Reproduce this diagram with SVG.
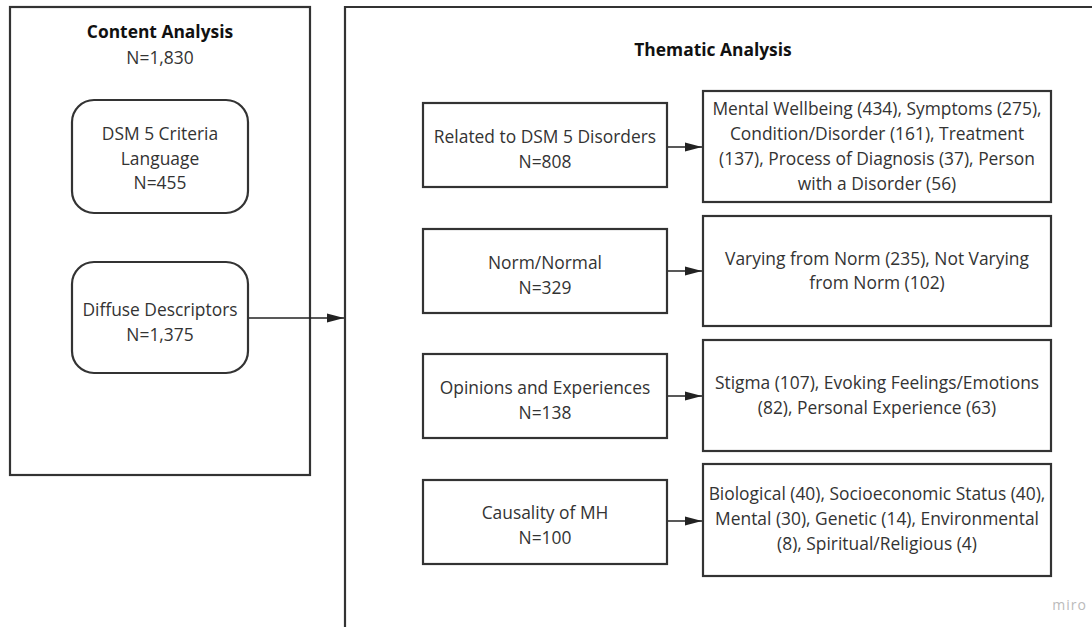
<svg xmlns="http://www.w3.org/2000/svg" width="1092" height="627" viewBox="0 0 1092 627">
<defs>
<marker id="ah" markerWidth="17" markerHeight="10" refX="17" refY="5" orient="auto" markerUnits="userSpaceOnUse">
<path d="M0,0.5 L17,5 L0,9.5 Z" fill="#222"/>
</marker>
<style>
.box{fill:#fff;stroke:#333;stroke-width:2.2}
.t{font-family:"Open Sans","Liberation Sans",sans-serif;font-size:17.4px;fill:#333;text-anchor:middle}
.b{font-weight:bold;fill:#111}
.c{stroke:#222;stroke-width:1.6;fill:none;marker-end:url(#ah)}
</style>
</defs>
<rect width="1092" height="627" fill="#fff"/>
<g id="content-analysis">
<rect class="box" x="10" y="7" width="300" height="468"/>
<text class="t b" x="160" y="38">Content Analysis</text>
<text class="t" x="160" y="64">N=1,830</text>
</g>
<g id="thematic-analysis">
<path d="M345,640 L345,7 L1100,7" fill="none" stroke="#333" stroke-width="2.2"/>
<text class="t b" x="713" y="56">Thematic Analysis</text>
</g>
<g id="dsm-criteria">
<rect class="box" x="72" y="100" width="176" height="113" rx="22"/>
<text class="t" x="160" y="140">DSM 5 Criteria</text>
<text class="t" x="160" y="165">Language</text>
<text class="t" x="160" y="189">N=455</text>
</g>
<g id="diffuse">
<rect class="box" x="72" y="262" width="176" height="111" rx="22"/>
<text class="t" x="160" y="316">Diffuse Descriptors</text>
<text class="t" x="160" y="341">N=1,375</text>
</g>
<g id="related">
<rect class="box" x="423" y="103" width="244" height="84"/>
<text class="t" x="545" y="143">Related to DSM 5 Disorders</text>
<text class="t" x="545" y="168">N=808</text>
</g>
<g id="norm">
<rect class="box" x="423" y="229" width="244" height="84"/>
<text class="t" x="545" y="269">Norm/Normal</text>
<text class="t" x="545" y="294">N=329</text>
</g>
<g id="opinions">
<rect class="box" x="423" y="354" width="244" height="84"/>
<text class="t" x="545" y="394">Opinions and Experiences</text>
<text class="t" x="545" y="419">N=138</text>
</g>
<g id="causality">
<rect class="box" x="423" y="480" width="244" height="84"/>
<text class="t" x="545" y="519">Causality of MH</text>
<text class="t" x="545" y="544">N=100</text>
</g>
<g id="related-detail">
<rect class="box" x="703" y="91" width="348" height="111"/>
<text class="t" x="877" y="115">Mental Wellbeing (434), Symptoms (275),</text>
<text class="t" x="877" y="140">Condition/Disorder (161), Treatment</text>
<text class="t" x="877" y="165">(137), Process of Diagnosis (37), Person</text>
<text class="t" x="877" y="190">with a Disorder (56)</text>
</g>
<g id="norm-detail">
<rect class="box" x="703" y="216" width="348" height="110"/>
<text class="t" x="877" y="265">Varying from Norm (235), Not Varying</text>
<text class="t" x="877" y="289">from Norm (102)</text>
</g>
<g id="opinions-detail">
<rect class="box" x="703" y="340" width="348" height="111"/>
<text class="t" x="877" y="389">Stigma (107), Evoking Feelings/Emotions</text>
<text class="t" x="877" y="414">(82), Personal Experience (63)</text>
</g>
<g id="causality-detail">
<rect class="box" x="703" y="464" width="348" height="112"/>
<text class="t" x="877" y="500">Biological (40), Socioeconomic Status (40),</text>
<text class="t" x="877" y="525">Mental (30), Genetic (14), Environmental</text>
<text class="t" x="877" y="550">(8), Spiritual/Religious (4)</text>
</g>
<g id="connectors">
<line class="c" x1="249" y1="318" x2="344" y2="318"/>
<line class="c" x1="668" y1="147" x2="702" y2="147"/>
<line class="c" x1="668" y1="271" x2="702" y2="271"/>
<line class="c" x1="668" y1="396" x2="702" y2="396"/>
<line class="c" x1="668" y1="521" x2="702" y2="521"/>
</g>
<text x="1087" y="610" font-family="'Open Sans','Liberation Sans',sans-serif" font-size="14" fill="#bbb" text-anchor="end" letter-spacing="1">miro</text>
</svg>
